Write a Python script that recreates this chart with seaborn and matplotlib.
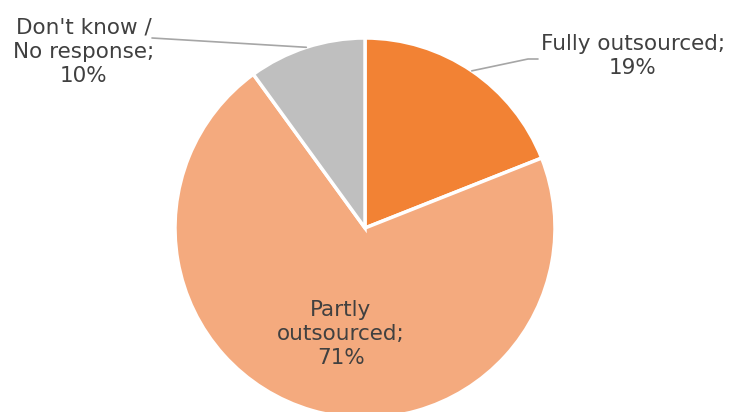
import numpy as np
import seaborn as sns
import matplotlib.pyplot as plt

# values
labels = ["Fully outsourced", "Partly outsourced", "Don't know /\nNo response"]
shares = [19, 71, 10]
colors = ["#F28234", "#F4AA7E", "#BFBFBF"]

sns.set_style("white")
plt.rcParams['font.family'] = ['DejaVu Sans']

W, H = 729, 412
fig = plt.figure(figsize=(W / 100, H / 100), dpi=100)
ax = fig.add_axes([0, 0, 1, 1])

cx, cy, r = 365, H - 228, 190
wedges, _ = ax.pie(shares, colors=colors, startangle=90, counterclock=False,
                   center=(cx, cy), radius=r, frame=True,
                   wedgeprops=dict(edgecolor='white', linewidth=2.5))
ax.set_xlim(0, W)
ax.set_ylim(0, H)
ax.set_aspect('equal')
ax.axis('off')

txt = dict(color='#404040', fontsize=15.5, ha='center', va='center', linespacing=1.28)

# Fully outsourced - label outside with leader line
w = wedges[0]
mid = np.deg2rad((w.theta1 + w.theta2) / 2)
p0 = (cx + r * np.cos(mid), cy + r * np.sin(mid))
ax.plot([p0[0], 528, 538], [p0[1], H - 59, H - 59], color='#A6A6A6', lw=1.2)
ax.text(633, H - 56, f"{labels[0]};\n{shares[0]}%", **txt)

# Partly outsourced - label inside
ax.text(341, H - 334, "Partly\noutsourced;\n" + f"{shares[1]}%", **txt)

# Don't know - label outside with leader line
w = wedges[2]
mid = np.deg2rad((w.theta1 + w.theta2) / 2)
p0 = (cx + r * np.cos(mid), cy + r * np.sin(mid))
ax.plot([p0[0], 152], [p0[1], H - 38], color='#A6A6A6', lw=1.2)
ax.text(84, H - 52, f"{labels[2]};\n{shares[2]}%", **txt)

fig.savefig("out.png", dpi=100)
